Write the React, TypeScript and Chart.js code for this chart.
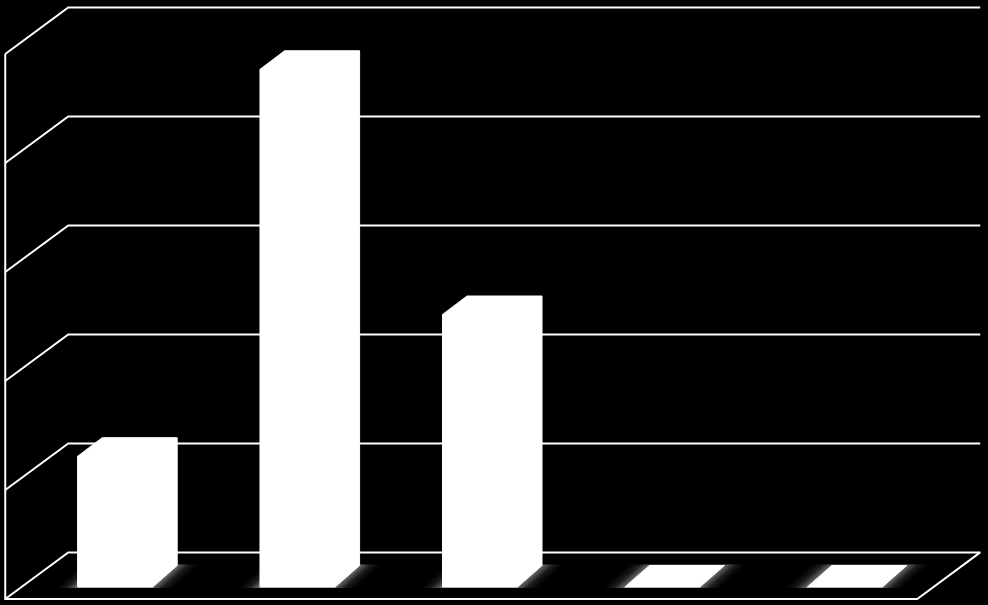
import { useEffect, useRef } from 'react';
import Chart from 'chart.js/auto';

const categories = ['1', '2', '3', '4', '5'];
const values = [1.2, 4.75, 2.5, 0, 0];
const yTicks = [0, 1, 2, 3, 4, 5];

// offsets of the 3d box, relative to the plane the bars stand on
const FRONT_DX = -18.75;
const FRONT_DY = 12;
const BACK_DX = 44.25;
const BACK_DY = -34.6;
const BAR_DX = 24.5;
const BAR_DY = -18.5;
const FOOT_DY = -21.5;
const GLOW = 21;

const box3d = {
  id: 'box3d',
  beforeDatasetsDraw(chart: Chart) {
    const { ctx, scales } = chart;
    const left = scales.x.left;
    const right = scales.x.right;
    const fl = left + FRONT_DX;
    const fr = right + FRONT_DX;
    const bl = left + BACK_DX;
    const br = right + BACK_DX;

    ctx.save();
    ctx.strokeStyle = '#ffffff';
    ctx.lineWidth = 2;
    ctx.lineJoin = 'miter';

    yTicks.forEach(t => {
      const py = scales.y.getPixelForValue(t);
      ctx.beginPath();
      ctx.moveTo(fl, py + FRONT_DY);
      ctx.lineTo(bl, py + BACK_DY);
      ctx.lineTo(br, py + BACK_DY);
      ctx.stroke();
    });

    // left wall edge + floor edges
    const top = scales.y.getPixelForValue(yTicks[yTicks.length - 1]);
    const zero = scales.y.getPixelForValue(0);
    ctx.beginPath();
    ctx.moveTo(fl, top + FRONT_DY);
    ctx.lineTo(fl, zero + FRONT_DY);
    ctx.lineTo(fr, zero + FRONT_DY);
    ctx.lineTo(br, zero + BACK_DY);
    ctx.stroke();

    // soft glow on the floor round each bar foot, sheared along the depth
    const bars = chart.getDatasetMeta(0).data as any[];
    bars.forEach(bar => {
      const x0 = bar.x - bar.width / 2;
      const x1 = bar.x + bar.width / 2;
      const shear = BAR_DX / FOOT_DY;
      ctx.save();
      ctx.transform(1, 0, shear, 1, -shear * zero, 0);
      const g = ctx.createLinearGradient(x0 - GLOW, 0, x1 + GLOW, 0);
      const edge = GLOW / (x1 - x0 + 2 * GLOW);
      g.addColorStop(0, 'rgba(255,255,255,0)');
      g.addColorStop(edge * 0.5, 'rgba(255,255,255,0.11)');
      g.addColorStop(edge, 'rgba(255,255,255,0.42)');
      g.addColorStop(1 - edge, 'rgba(255,255,255,0.42)');
      g.addColorStop(1 - edge * 0.5, 'rgba(255,255,255,0.11)');
      g.addColorStop(1, 'rgba(255,255,255,0)');
      ctx.fillStyle = g;
      ctx.fillRect(x0 - GLOW, zero + FOOT_DY - 1, x1 - x0 + 2 * GLOW, -FOOT_DY + 2);
      ctx.restore();
    });

    // sides + tops of the bars
    ctx.fillStyle = '#ffffff';
    ctx.strokeStyle = '#ffffff';
    ctx.lineWidth = 1;
    ctx.lineJoin = 'round';
    bars.forEach(bar => {
      const x0 = bar.x - bar.width / 2;
      const x1 = bar.x + bar.width / 2;
      const topDy = bar.y === zero ? FOOT_DY : BAR_DY;
      ctx.beginPath();
      ctx.moveTo(x0, bar.y);
      ctx.lineTo(x0 + BAR_DX, bar.y + topDy);
      ctx.lineTo(x1 + BAR_DX, bar.y + topDy);
      ctx.lineTo(x1 + BAR_DX, zero + FOOT_DY);
      ctx.lineTo(x1, zero);
      ctx.lineTo(x0, zero);
      ctx.closePath();
      ctx.fill();
      ctx.stroke();
    });
    ctx.restore();
  },
};

const App = () => {
  const chartRef = useRef<HTMLCanvasElement>(null);

  useEffect(() => {
    if (!chartRef.current) return;

    const chart = new Chart(chartRef.current, {
      type: 'bar',
      data: {
        labels: categories,
        datasets: [{
          data: values,
          backgroundColor: '#ffffff',
          borderWidth: 0,
          barThickness: 75,
        }],
      },
      options: {
        responsive: false,
        animation: false,
        layout: { padding: { left: 24, right: 52, top: 42, bottom: 18 } },
        plugins: {
          legend: { display: false },
          tooltip: { enabled: false },
          title: { display: false },
        },
        scales: {
          x: { display: false },
          y: { display: false, min: 0, max: 5, ticks: { stepSize: 1 } },
        },
      },
      plugins: [box3d],
    });

    return () => chart.destroy();
  }, []);

  return (
    <div style={{ position: 'absolute', left: 0, top: 0, width: 988, height: 605, background: '#000000' }}>
      <canvas ref={chartRef} width={988} height={605} style={{ display: 'block' }} />
    </div>
  );
};

export default App;
